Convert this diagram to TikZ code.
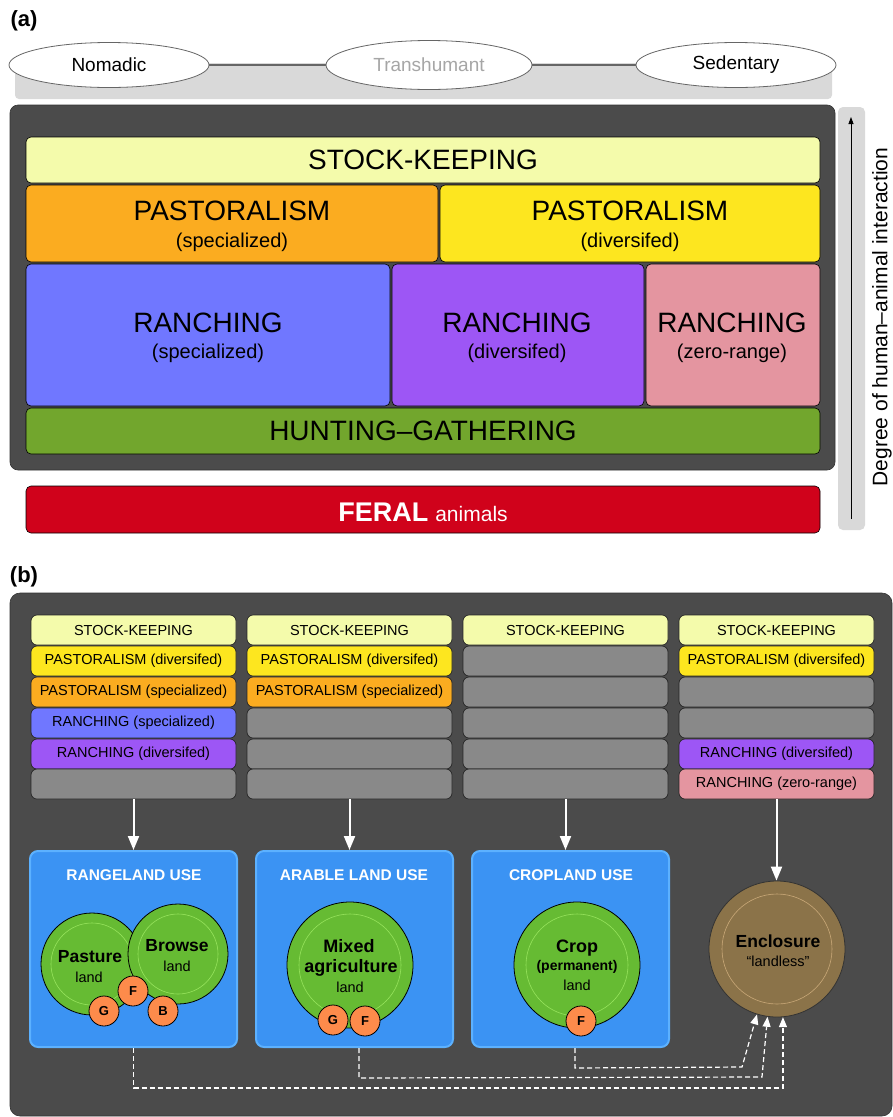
\documentclass[tikz,border=0pt]{standalone}
\usepackage{fontspec}
\setmainfont{Liberation Sans}
\usetikzlibrary{arrows.meta,fit,shapes.geometric,calc}
\newcommand{\fsz}[1]{\fontsize{#1}{#1}\selectfont}
\definecolor{cSK}{HTML}{F4FBAB}
\definecolor{cPS}{HTML}{FBAC20}
\definecolor{cPD}{HTML}{FDE61F}
\definecolor{cRS}{HTML}{7077FF}
\definecolor{cRD}{HTML}{9D56F5}
\definecolor{cRZ}{HTML}{E495A0}
\definecolor{cHG}{HTML}{72A62D}
\definecolor{cFE}{HTML}{D0021B}
\definecolor{cGR}{HTML}{898989}
\definecolor{cDK}{HTML}{4B4B4B}
\definecolor{cLG}{HTML}{D9D9D9}
\definecolor{cBL}{HTML}{3B93F3}
\definecolor{cBLb}{HTML}{5CB1FF}
\definecolor{cGN}{HTML}{66BB33}
\definecolor{cGNr}{HTML}{96E35C}
\definecolor{cOR}{HTML}{FD8B4B}
\definecolor{cEN}{HTML}{8B7349}
\definecolor{cENr}{HTML}{C9A878}
\newcommand{\rbox}[6]{\node[#6, fit={(#2,#3) (#4,#5)}] (#1) {};}
\begin{document}
\begin{tikzpicture}[x=1pt,y=-1pt,
  abox/.style={draw=black, line width=0.6pt, rounded corners=5pt, inner sep=0pt},
  cbox/.style={draw=black!85, line width=0.7pt, rounded corners=6pt, inner sep=0pt},
  ctext/.style={font=\fsz{14.5}},
  big/.style={font=\fsz{28}},
  sub/.style={font=\fsz{20}},
  ell/.style={ellipse, draw=black!60, line width=0.8pt, fill=white, inner sep=0pt, font=\fsz{19}},
  landbox/.style={draw=cBLb, fill=cBL, line width=2pt, rounded corners=8pt, inner sep=0pt},
  ltitle/.style={font=\bfseries\fsz{15.5}, text=white},
  gcirc/.style={circle, draw=black, line width=0.8pt, fill=cGN, inner sep=0pt},
  scirc/.style={circle, draw=black, line width=0.8pt, fill=cOR, inner sep=0pt, minimum size=30pt, font=\bfseries\fsz{13}},
  btext/.style={font=\bfseries\fsz{18}},
  ltext/.style={font=\fsz{14.5}},
  warr/.style={draw=white, line width=2pt, -{Triangle[width=11pt,length=14pt]}},
  dasharr/.style={draw=white, line width=1.2pt, dash pattern=on 5pt off 3pt, -{Triangle[width=8pt,length=10pt]}}
]
\useasboundingbox (0,0) rectangle (893,1117);
\fill[white] (0,0) rectangle (893,1117);

% ---------- panel (a)
\node[font=\bfseries\fsz{22}] (la) at (24,21) {(a)};
\fill[cLG, rounded corners=4pt] (15,63) rectangle (832,99);
\node[ell, minimum width=200pt, minimum height=45pt] (nom) at (109,65) {Nomadic};
\node[ell, minimum width=206pt, minimum height=49pt, text=black!35] (tra) at (429,65) {Transhumant};
\node[ell, minimum width=200pt, minimum height=45pt] (sed) at (736,65) {Sedentary};
\draw[black!60, line width=1.5pt] (nom.east) -- (tra.west);
\draw[black!60, line width=1.5pt] (tra.east) -- (sed.west);

\rbox{pa}{10}{105}{835}{470}{fill=cDK, draw=black!80, line width=0.6pt, rounded corners=8pt, inner sep=0pt}
\rbox{sk}{26}{137}{820}{183}{abox, fill=cSK}
\node[big] (skT) at (sk) {STOCK-KEEPING};
\rbox{ps}{26}{185}{438}{262}{abox, fill=cPS}
\node[big] (psT) at (232,211) {PASTORALISM};
\node[sub] (psS) at (232,242) {(specialized)};
\rbox{pd}{440}{185}{820}{262}{abox, fill=cPD}
\node[big] (pdT) at (630,211) {PASTORALISM};
\node[sub] (pdS) at (630,242) {(diversifed)};
\rbox{rs}{26}{264}{390}{406}{abox, fill=cRS}
\node[big] (rsT) at (208,323) {RANCHING};
\node[sub] (rsS) at (208,353) {(specialized)};
\rbox{rd}{392}{264}{644}{406}{abox, fill=cRD}
\node[big] (rdT) at (517,323) {RANCHING};
\node[sub] (rdS) at (517,353) {(diversifed)};
\rbox{rz}{646}{264}{820}{406}{abox, fill=cRZ}
\node[big] (rzT) at (732,323) {RANCHING};
\node[sub] (rzS) at (732,353) {(zero-range)};
\rbox{hg}{26}{408}{820}{454}{abox, fill=cHG}
\node[big] (hgT) at (hg) {HUNTING–GATHERING};
\rbox{fe}{26}{486}{820}{533}{abox, fill=cFE}
\node[text=white, anchor=base] (feT) at (423,521) {{\bfseries\fsz{27}FERAL}\hspace{7pt}{\fsz{21}animals}};

\rbox{axbar}{838}{107}{865}{530}{fill=cLG, rounded corners=5pt, inner sep=0pt}
\coordinate (ax0) at (851,519);
\coordinate (ax1) at (851,117);
\draw[line width=0.8pt, -{Triangle[width=5pt,length=7pt]}] (ax0) -- (ax1);
\node[rotate=90, font=\fsz{21}] (axl) at (882,317) {Degree of human–animal interaction};

% ---------- panel (b)
\node[font=\bfseries\fsz{22}] (lb) at (24,577) {(b)};
\rbox{pb}{10}{593}{892}{1116}{fill=cDK, draw=black!80, line width=0.6pt, rounded corners=10pt, inner sep=0pt}

% column 1
\rbox{c1r1}{31}{615}{236}{645}{cbox, fill=cSK}\node[ctext] at (c1r1) (t11) {STOCK-KEEPING};
\rbox{c1r2}{31}{646}{236}{676}{cbox, fill=cPD}\node[ctext] at (c1r2) (t12) {PASTORALISM (diversifed)};
\rbox{c1r3}{31}{677}{236}{707}{cbox, fill=cPS}\node[ctext] at (c1r3) (t13) {PASTORALISM (specialized)};
\rbox{c1r4}{31}{708}{236}{738}{cbox, fill=cRS}\node[ctext] at (c1r4) (t14) {RANCHING (specialized)};
\rbox{c1r5}{31}{739}{236}{769}{cbox, fill=cRD}\node[ctext] at (c1r5) (t15) {RANCHING (diversifed)};
\rbox{c1r6}{31}{769}{236}{799}{cbox, fill=cGR}
% column 2
\rbox{c2r1}{247}{615}{452}{645}{cbox, fill=cSK}\node[ctext] at (c2r1) (t21) {STOCK-KEEPING};
\rbox{c2r2}{247}{646}{452}{676}{cbox, fill=cPD}\node[ctext] at (c2r2) (t22) {PASTORALISM (diversifed)};
\rbox{c2r3}{247}{677}{452}{707}{cbox, fill=cPS}\node[ctext] at (c2r3) (t23) {PASTORALISM (specialized)};
\rbox{c2r4}{247}{708}{452}{738}{cbox, fill=cGR}
\rbox{c2r5}{247}{739}{452}{769}{cbox, fill=cGR}
\rbox{c2r6}{247}{769}{452}{799}{cbox, fill=cGR}
% column 3
\rbox{c3r1}{463}{615}{668}{645}{cbox, fill=cSK}\node[ctext] at (c3r1) (t31) {STOCK-KEEPING};
\rbox{c3r2}{463}{646}{668}{676}{cbox, fill=cGR}
\rbox{c3r3}{463}{677}{668}{707}{cbox, fill=cGR}
\rbox{c3r4}{463}{708}{668}{738}{cbox, fill=cGR}
\rbox{c3r5}{463}{739}{668}{769}{cbox, fill=cGR}
\rbox{c3r6}{463}{769}{668}{799}{cbox, fill=cGR}
% column 4
\rbox{c4r1}{679}{615}{874}{645}{cbox, fill=cSK}\node[ctext] at (c4r1) (t41) {STOCK-KEEPING};
\rbox{c4r2}{679}{646}{874}{676}{cbox, fill=cPD}\node[ctext] at (c4r2) (t42) {PASTORALISM (diversifed)};
\rbox{c4r3}{679}{677}{874}{707}{cbox, fill=cGR}
\rbox{c4r4}{679}{708}{874}{738}{cbox, fill=cGR}
\rbox{c4r5}{679}{739}{874}{769}{cbox, fill=cRD}\node[ctext] at (c4r5) (t45) {RANCHING (diversifed)};
\rbox{c4r6}{679}{769}{874}{799}{cbox, fill=cRZ}\node[ctext] at (c4r6) (t46) {RANCHING (zero-range)};

% land-use boxes
\rbox{range}{30}{851}{237}{1047}{landbox}
\node[ltitle] (rangeT) at (134,875) {RANGELAND USE};
\rbox{arable}{256}{851}{453}{1047}{landbox}
\node[ltitle] (arableT) at (354,875) {ARABLE LAND USE};
\rbox{cropb}{472}{851}{669}{1047}{landbox}
\node[ltitle] (cropT) at (571,875) {CROPLAND USE};

% rangeland circles
\node[gcirc, minimum size=102pt] (pas) at (92,964) {};
\draw[cGNr, line width=0.6pt] (pas.center) circle (41pt);
\node[gcirc, minimum size=100pt] (bro) at (178,954) {};
\draw[cGNr, line width=0.6pt] (bro.center) circle (40pt);
\node[btext, font=\bfseries\fsz{17.5}] (pasT) at (90,957) {Pasture};
\node[ltext] (pasL) at (89,977) {land};
\node[btext, font=\bfseries\fsz{17.5}] (broT) at (177,946) {Browse};
\node[ltext] (broL) at (177,966) {land};
\node[scirc] (sG) at (104,1011) {G};
\node[scirc] (sF) at (133,991) {F};
\node[scirc] (sB) at (163,1011) {B};

% arable
\node[gcirc, minimum size=126pt] (mix) at (350,965) {};
\draw[cGNr, line width=0.6pt] (mix.center) circle (51pt);
\node[btext] (mixT1) at (349,946) {Mixed};
\node[btext] (mixT2) at (351,968) {agriculture};
\node[ltext] (mixL) at (350,987) {land};
\node[scirc] (mG) at (333,1020) {G};
\node[scirc] (mF) at (365,1021) {F};

% cropland
\node[gcirc, minimum size=126pt] (crop) at (577,965) {};
\draw[cGNr, line width=0.6pt] (crop.center) circle (51pt);
\node[btext] (cropT1) at (577,948) {Crop};
\node[font=\bfseries\fsz{14}] (cropT2) at (577,967) {(permanent)};
\node[ltext] (cropL) at (577,985) {land};
\node[scirc] (cF) at (581,1021) {F};

% enclosure
\node[circle, draw=black!80, line width=0.8pt, fill=cEN, inner sep=0pt, minimum size=136pt] (enc) at (777,949) {};
\draw[cENr, line width=0.6pt] (enc.center) circle (55pt);
\node[btext, font=\bfseries\fsz{17.5}] (encT) at (778,941) {Enclosure};
\node[ltext] (encL) at (778,961) {“landless”};

% arrows
\draw[warr] (c1r6.south) -- (range.north);
\draw[warr] (c2r6.south) -- (c2r6.south |- arable.north);
\draw[warr] (c3r6.south) -- (c3r6.south |- cropb.north);
\draw[warr] (c4r6.south) -- (c4r6.south |- enc.north);

\draw[dasharr] (range.south) -- ++(0,40) -| (enc.-85);
\draw[dasharr] ([xshift=4.5pt]arable.south) -- ++(0,30) -- (762,1077) -- (enc.-98);
\draw[dasharr] ([xshift=4.5pt]cropb.south) -- ++(0,20) -- (742,1067) -- (enc.-107);
\end{tikzpicture}
\end{document}
